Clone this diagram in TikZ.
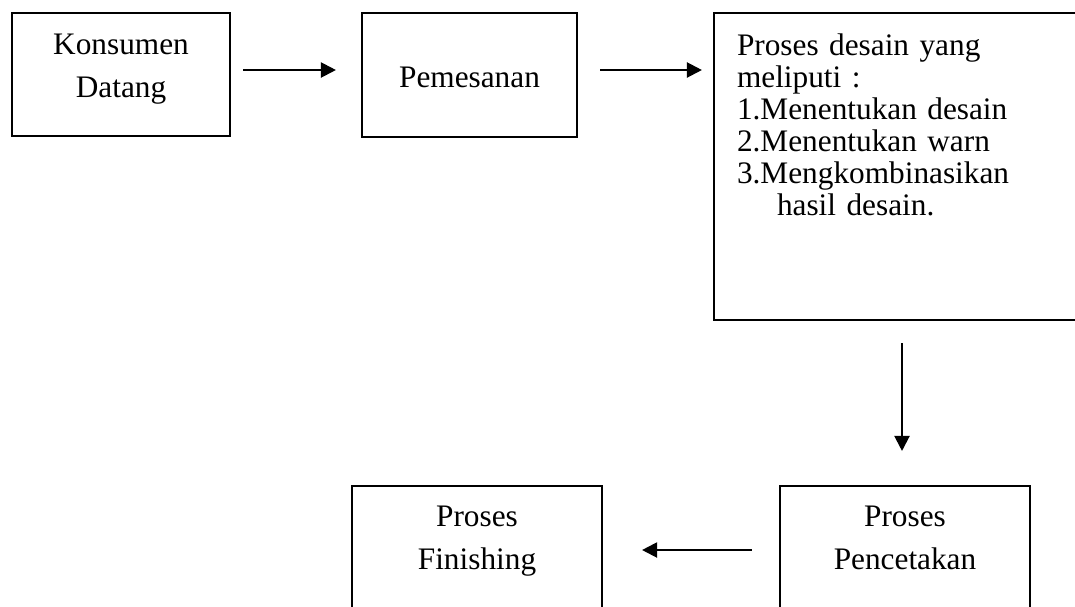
\documentclass[tikz,border=0pt]{standalone}
\usepackage{fontspec}
\setmainfont{Liberation Serif}
\usepackage{tikz}
\usepackage{xcolor}
\usetikzlibrary{arrows.meta}
\tikzstyle{every node}=[font=\fontsize{31.3}{43}\selectfont]
\tikzstyle{block} = [rectangle, draw, line width=2.1pt, align=center, inner sep=0pt, text height=63pt, text depth=25pt]
\tikzstyle{listblock} = [block, align=left, text width=330pt, font=\fontsize{31.3}{32}\selectfont]
\tikzstyle{line} = [draw, line width=2.1pt, -{Triangle[length=15pt,width=15pt]}]

\begin{document}
\begin{tikzpicture}[x=1pt,y=-1pt]
    \useasboundingbox (0,0) rectangle (1075,606);
    \clip (0,0) rectangle (1075,606);
    % Place nodes
    \node [block, minimum width=218pt, minimum height=123pt, text height=65pt, text depth=20pt] (konsumen) at (121,74.5) {Konsumen\\Datang};
    \node [block, minimum width=215pt, minimum height=124pt, text height=24pt, text depth=0pt] (pemesanan) at (469.5,75) {Pemesanan};
    \node [listblock, minimum width=376pt, minimum height=307pt, text height=22pt, text depth=245pt] (desain) at (902,166.5) {Proses desain yang\\meliputi :\\1.Menentukan desain\\2.Menentukan warn\\3.Mengkombinasikan\\\hspace*{40pt}hasil desain.};
    \node [block, minimum width=250pt, minimum height=128pt] (pencetakan) at (905,550) {Proses\\Pencetakan};
    \node [block, minimum width=250pt, minimum height=128pt] (finishing) at (477,550) {Proses\\Finishing};
    % Draw edges
    \coordinate (a1) at ([yshift=4.5pt]konsumen.east);
    \coordinate (a2) at ([yshift=5pt]pemesanan.east);
    \coordinate (a3) at ([xshift=-3pt]pencetakan.north);
    \path [line, shorten <=12pt, shorten >=25pt] (a1) -- (a1 -| pemesanan.west);
    \path [line, shorten <=22pt, shorten >=11pt] (a2) -- (a2 -| desain.west);
    \path [line, shorten <=22pt, shorten >=34pt] (a3 |- desain.south) -- (a3);
    \path [line, shorten <=27pt, shorten >=39pt] (pencetakan.west) -- (finishing.east);
\end{tikzpicture}
\end{document}
